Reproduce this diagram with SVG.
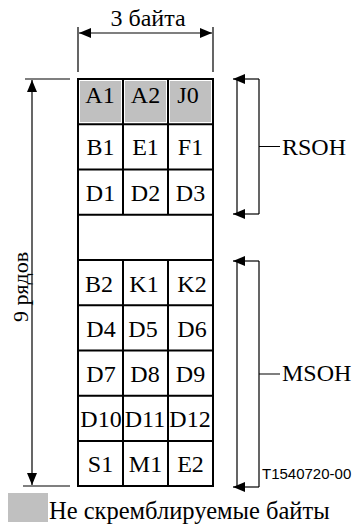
<svg xmlns="http://www.w3.org/2000/svg" width="355" height="524" viewBox="0 0 355 524">
<defs>
<style>
.c{text-anchor:middle}
.ln{stroke:#000;stroke-width:1.2;fill:none}
.g{stroke:#000;stroke-width:2;fill:none}
.gray{fill:#c0c0c0}
</style>
<marker id="ah" viewBox="0 0 12 10" refX="12" refY="5" markerWidth="12" markerHeight="10" markerUnits="userSpaceOnUse" orient="auto-start-reverse">
<path d="M0,0 L12,5 L0,10 Z" fill="#000"/>
</marker>
</defs>
<g id="grid">
<rect class="gray" x="80" y="81" width="41" height="41"/>
<rect class="gray" x="125" y="81" width="41" height="41"/>
<rect class="gray" x="170" y="81" width="41" height="41"/>
<rect x="78" y="79" width="135" height="407" class="g"/>
<path class="g" d="M78,124.25H213M78,169.5H213M78,214.75H213M78,260H213M78,305.25H213M78,350.5H213M78,395.75H213M78,441H213"/>
<path class="g" d="M123,79V214.75M168,79V214.75M123,260V486M168,260V486"/>
</g>
<g font-family="Liberation Serif, Times New Roman, serif" font-size="24" fill="#000">
<g id="cells">
<text class="c" x="100" y="103">A1</text><text class="c" x="145.5" y="103">A2</text><text class="c" x="188" y="103">J0</text>
<text class="c" x="100.5" y="155">B1</text><text class="c" x="145.5" y="155">E1</text><text class="c" x="190.5" y="155">F1</text>
<text class="c" x="100.5" y="201">D1</text><text class="c" x="145.5" y="201">D2</text><text class="c" x="190.5" y="201">D3</text>
<text class="c" x="99" y="292">B2</text><text class="c" x="144" y="292">K1</text><text class="c" x="192" y="292">K2</text>
<text class="c" x="101" y="337">D4</text><text class="c" x="143" y="337">D5</text><text class="c" x="192" y="337">D6</text>
<text class="c" x="101" y="382">D7</text><text class="c" x="145" y="382">D8</text><text class="c" x="190.5" y="382">D9</text>
<text class="c" x="101" y="427">D10</text><text class="c" x="145" y="427">D11</text><text class="c" x="190" y="427">D12</text>
<text class="c" x="100.5" y="472">S1</text><text class="c" x="145.5" y="472">M1</text><text class="c" x="190.5" y="472">E2</text>
</g>
<g id="width-dim">
<path class="ln" d="M78,27V72M213,27V72"/>
<path class="ln" d="M79,33H212" marker-start="url(#ah)" marker-end="url(#ah)"/>
<text class="c" x="148" y="26">3 байта</text>
</g>
<g id="height-dim">
<path class="ln" d="M25,79H70M23,486H70"/>
<path class="ln" d="M32,80V485" marker-start="url(#ah)" marker-end="url(#ah)"/>
<text class="c" transform="translate(28,287) rotate(-90)" font-size="22">9 рядов</text>
</g>
<g id="rsoh">
<path class="ln" d="M237,79V214M259,79V214M259,146.5H280"/>
<path class="ln" d="M259,79H233" marker-end="url(#ah)"/>
<path class="ln" d="M259,214H233" marker-end="url(#ah)"/>
<text x="282" y="155">RSOH</text>
</g>
<g id="msoh">
<path class="ln" d="M237,261V487M259,261V487M259,374H280"/>
<path class="ln" d="M259,261H233" marker-end="url(#ah)"/>
<path class="ln" d="M259,487H233" marker-end="url(#ah)"/>
<text x="282" y="381">MSOH</text>
</g>
<g id="legend">
<rect class="gray" x="8" y="493" width="40" height="29"/>
<text x="49" y="519" font-size="24.5">Не скремблируемые байты</text>
</g>
</g>
<text x="262" y="479" font-family="Liberation Sans, Arial, sans-serif" font-size="15">T1540720-00</text>
</svg>
